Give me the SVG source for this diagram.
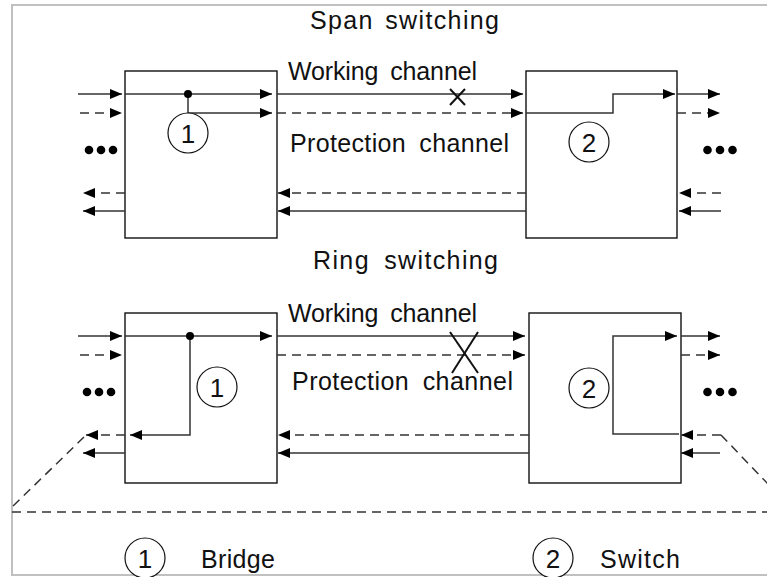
<svg xmlns="http://www.w3.org/2000/svg" width="767" height="577" viewBox="0 0 767 577">
<style>
.box{fill:none;stroke:#111;stroke-width:1.4}
.ln{fill:none;stroke:#333;stroke-width:1.5}
.ds{fill:none;stroke:#333;stroke-width:1.5;stroke-dasharray:9 6}
.arr{marker-end:url(#ah)}
.cx{fill:none;stroke:#111;stroke-width:2}
.circ{fill:#fff;stroke:#111;stroke-width:1.2}
.t{font-family:"Liberation Sans",Arial,sans-serif;font-size:25px;fill:#111}
.n{font-family:"Liberation Sans",Arial,sans-serif;font-size:26px;fill:#111;text-anchor:middle}
</style>
<defs>
<marker id="ah" markerUnits="userSpaceOnUse" viewBox="0 0 12 10" refX="12" refY="5" markerWidth="12" markerHeight="10" orient="auto">
<path d="M0,0 L12,5 L0,10 z" fill="#000"/>
</marker>
</defs>
<rect x="12" y="5" width="780" height="570" fill="none" stroke="#c0c0c0" stroke-width="2"/>

<g id="titles">
<text class="t" x="310" y="29" textLength="189" lengthAdjust="spacing" word-spacing="3">Span switching</text>
<text class="t" x="313" y="269" textLength="185" lengthAdjust="spacing" word-spacing="6">Ring switching</text>
</g>

<g id="channel-labels">
<text class="t" x="288" y="80" textLength="189" lengthAdjust="spacing" word-spacing="5">Working channel</text>
<text class="t" x="290" y="152" textLength="219" lengthAdjust="spacing" word-spacing="6">Protection channel</text>
<text class="t" x="288" y="322" textLength="189" lengthAdjust="spacing" word-spacing="5">Working channel</text>
<text class="t" x="292" y="390" textLength="221" lengthAdjust="spacing" word-spacing="6">Protection channel</text>
</g>

<g id="span-node-1">
<rect class="box" x="125" y="71" width="152" height="167"/>
</g>
<g id="span-node-2">
<rect class="box" x="526" y="71" width="151" height="167"/>
</g>
<g id="ring-node-1">
<rect class="box" x="125" y="313" width="152" height="170"/>
</g>
<g id="ring-node-2">
<rect class="box" x="529" y="313" width="152" height="170"/>
</g>

<g id="connectors">
<!-- span switching -->
<line class="ln arr" x1="78" y1="94" x2="122" y2="94"/>
<line class="ds arr" x1="80" y1="113" x2="122" y2="113"/>
<line class="ln arr" x1="125" y1="94" x2="272" y2="94"/>
<polyline class="ln arr" points="188,94 188,113 272,113"/>
<circle cx="188" cy="94" r="4" fill="#000"/>
<line class="ln arr" x1="277" y1="94" x2="523" y2="94"/>
<line class="ds arr" x1="277" y1="113" x2="523" y2="113"/>
<polyline class="ln arr" points="526,113 613,113 613,94 675,94"/>
<line class="ln arr" x1="677" y1="94" x2="720" y2="94"/>
<line class="ds arr" x1="677" y1="113" x2="720" y2="113"/>
<line class="ds arr" x1="721" y1="193" x2="679" y2="193"/>
<line class="ln arr" x1="721" y1="211" x2="679" y2="211"/>
<line class="ds arr" x1="526" y1="193" x2="278" y2="193"/>
<line class="ln arr" x1="526" y1="211" x2="278" y2="211"/>
<line class="ds arr" x1="125" y1="193" x2="83" y2="193"/>
<line class="ln arr" x1="125" y1="211" x2="83" y2="211"/>
<line class="cx" x1="450" y1="89" x2="465" y2="105"/>
<line class="cx" x1="465" y1="89" x2="450" y2="105"/>

<!-- ring switching -->
<line class="ln arr" x1="78" y1="336" x2="122" y2="336"/>
<line class="ds arr" x1="80" y1="355" x2="122" y2="355"/>
<line class="ln arr" x1="125" y1="336" x2="272" y2="336"/>
<polyline class="ln arr" points="190,336 190,435 130,435"/>
<circle cx="190" cy="336" r="4" fill="#000"/>
<line class="ds arr" x1="125" y1="435" x2="86" y2="435"/>
<line class="ln arr" x1="125" y1="453" x2="83" y2="453"/>
<line class="ds" x1="84" y1="437" x2="11" y2="508"/>
<line class="ln arr" x1="277" y1="336" x2="525" y2="336"/>
<line class="ds arr" x1="277" y1="355" x2="525" y2="355"/>
<line class="ds arr" x1="529" y1="435" x2="278" y2="435"/>
<line class="ln arr" x1="529" y1="453" x2="278" y2="453"/>
<polyline class="ln arr" points="679,434 613,434 613,336 677,336"/>
<line class="ln arr" x1="681" y1="336" x2="720" y2="336"/>
<line class="ds arr" x1="681" y1="355" x2="720" y2="355"/>
<line class="ds arr" x1="721" y1="435" x2="681" y2="435"/>
<line class="ln arr" x1="720" y1="453" x2="681" y2="453"/>
<line class="ds" x1="721" y1="435" x2="790" y2="507"/>
<line class="cx" x1="450" y1="332" x2="478" y2="373"/>
<line class="cx" x1="478" y1="332" x2="452" y2="373"/>

<line class="ds" x1="12" y1="512" x2="767" y2="512"/>
</g>

<g id="ellipses">
<circle cx="89" cy="150" r="4.3" fill="#000"/>
<circle cx="101" cy="150" r="4.3" fill="#000"/>
<circle cx="113" cy="150" r="4.3" fill="#000"/>
<circle cx="707.5" cy="150" r="4.3" fill="#000"/>
<circle cx="720" cy="150" r="4.3" fill="#000"/>
<circle cx="732.5" cy="150" r="4.3" fill="#000"/>
<circle cx="87" cy="392" r="4.3" fill="#000"/>
<circle cx="99" cy="392" r="4.3" fill="#000"/>
<circle cx="111" cy="392" r="4.3" fill="#000"/>
<circle cx="707.5" cy="392" r="4.3" fill="#000"/>
<circle cx="720" cy="392" r="4.3" fill="#000"/>
<circle cx="732.5" cy="392" r="4.3" fill="#000"/>
</g>

<g id="bridge-span">
<circle class="circ" cx="188" cy="133" r="20"/>
<text class="n" x="188" y="142.5">1</text>
</g>
<g id="switch-span">
<circle class="circ" cx="589" cy="142" r="20"/>
<text class="n" x="589" y="151.5">2</text>
</g>
<g id="bridge-ring">
<circle class="circ" cx="217" cy="387" r="20"/>
<text class="n" x="217" y="396.5">1</text>
</g>
<g id="switch-ring">
<circle class="circ" cx="589" cy="388" r="20"/>
<text class="n" x="589" y="397.5">2</text>
</g>

<g id="legend">
<circle class="circ" cx="145" cy="558" r="20"/>
<text class="n" x="145" y="567.5">1</text>
<text class="t" x="201" y="568" textLength="74" lengthAdjust="spacing">Bridge</text>
<circle class="circ" cx="553" cy="558" r="20"/>
<text class="n" x="553" y="567.5">2</text>
<text class="t" x="600" y="568" textLength="80" lengthAdjust="spacing">Switch</text>
</g>
</svg>
